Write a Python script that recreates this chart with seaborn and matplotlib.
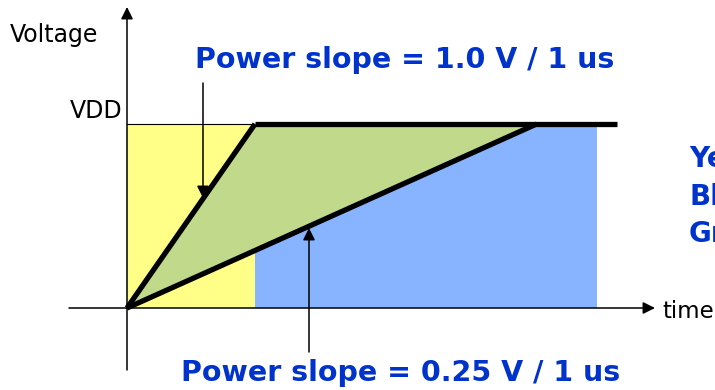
import numpy as np
import matplotlib
matplotlib.use("Agg")
import matplotlib.pyplot as plt
import seaborn as sns
import pandas as pd

# diagram values (time in arbitrary units, voltage normalised to VDD = 1)
vdd = 1.0
t_fast = [0.0, 1.0]          # steep ramp: reaches VDD at t = 1
v_fast = [0.0, 1.0]
t_slow = [0.0, 3.2]          # slow ramp
v_slow = [0.0, 1.0]
t_flat = [1.0, 3.83]         # VDD plateau
v_flat = [1.0, 1.0]
t_blue_end = 3.67            # end of the blue area
fast_label = "Power slope = 1.0 V / 1 us"
slow_label = "Power slope = 0.25 V / 1 us"
legend_lines = ["Yellow", "Blue", "Green"]

YELLOW = "#FFFF88"
GREEN = "#C0D98A"
BLUE = "#88B4FF"
TXT_BLUE = "#0033CC"

sns.set_style("white")
plt.rcParams['font.family'] = ['DejaVu Sans']
plt.rcParams['text.color'] = 'black'

fig = plt.figure(figsize=(7.15, 3.9), dpi=100)
ax = fig.add_axes([0, 0, 1, 1])
ax.set_xlim(-127 / 128, 588 / 128)
ax.set_ylim(-82 / 184, 308 / 184)
ax.axis("off")

# shaded regions
ax.fill_between([0, t_blue_end], 0, vdd, color=BLUE, lw=0, zorder=1)
ax.fill_between([0, t_fast[1]], 0, vdd, color=YELLOW, lw=0, zorder=2)
ax.plot([0, t_fast[1]], [vdd, vdd], color="black", lw=0.8, zorder=2)
ax.fill([t_fast[0], t_fast[1], t_slow[1]], [v_fast[0], v_fast[1], v_slow[1]],
        color=GREEN, lw=0, zorder=3)

# ramps
df = pd.DataFrame({
    "t": t_fast + t_slow + t_flat,
    "v": v_fast + v_slow + v_flat,
    "seg": ["fast"] * 2 + ["slow"] * 2 + ["flat"] * 2,
})
sns.lineplot(data=df, x="t", y="v", units="seg", estimator=None, color="black",
             lw=3.8, ax=ax, zorder=5, solid_capstyle="butt")

# axes with arrows
arrow = dict(arrowstyle="-|>", color="black", lw=1.1, mutation_scale=18,
             shrinkA=0, shrinkB=0)
ax.annotate("", xy=(0, 301 / 184), xytext=(0, -62 / 184), arrowprops=arrow, zorder=6)
ax.annotate("", xy=(528 / 128, 0), xytext=(-58 / 128, 0), arrowprops=arrow, zorder=6)

ax.text(-117 / 128, 273 / 184, "Voltage", fontsize=17, va="center", ha="left")
ax.text(-5 / 128, 197 / 184, "VDD", fontsize=17, va="center", ha="right")
ax.text(535 / 128, -4 / 184, "time", fontsize=16.5, va="center", ha="left")

# slope annotations
ax.text(278 / 128, 248 / 184, fast_label, fontsize=20.5, fontweight="bold",
        color=TXT_BLUE, ha="center", va="center")
ax.annotate("", xy=(76 / 128, 110 / 184), xytext=(76 / 128, 225 / 184),
            arrowprops=arrow, zorder=7)
ax.text(274 / 128, -65 / 184, slow_label, fontsize=20.5, fontweight="bold",
        color=TXT_BLUE, ha="center", va="center")
ax.annotate("", xy=(182 / 128, 80 / 184), xytext=(182 / 128, -44 / 184),
            arrowprops=arrow, zorder=7)

# legend text, cut off at the right edge as in the source slide
for i, s in enumerate(legend_lines):
    ax.text(562 / 128, (149 - 37.5 * i) / 184, s, fontsize=20, fontweight="bold",
            color=TXT_BLUE, ha="left", va="center", clip_on=True)

fig.savefig("out.png", dpi=100)
